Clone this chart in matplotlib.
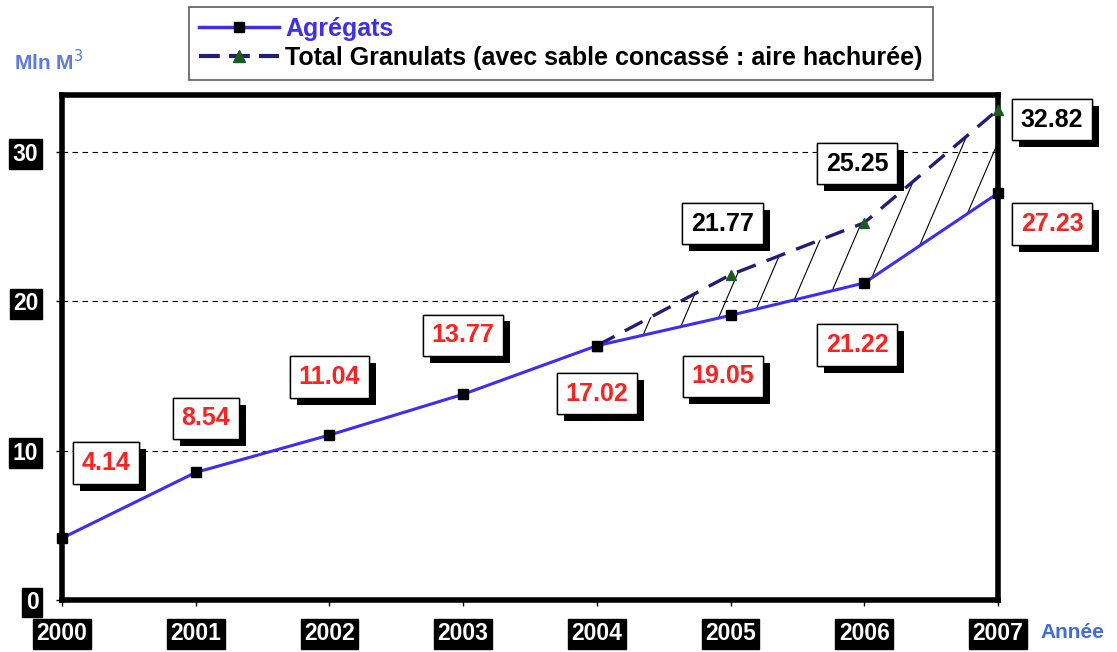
import matplotlib
matplotlib.use("Agg")
import numpy as np
import matplotlib.pyplot as plt
from matplotlib import patheffects as pe
from matplotlib.lines import Line2D

plt.rcParams['font.family'] = ['Liberation Sans', 'DejaVu Sans']

years = [2000, 2001, 2002, 2003, 2004, 2005, 2006, 2007]
agregats = [4.14, 8.54, 11.04, 13.77, 17.02, 19.05, 21.22, 27.23]
total_years = [2004, 2005, 2006, 2007]
total = [17.02, 21.77, 25.25, 32.82]
yticks = [0, 10, 20, 30]
legend_labels = ['Agrégats', 'Total Granulats (avec sable concassé : aire hachurée)']

# label offsets in pixels (dx, dy up)
agg_offsets = [(44, 75), (10, 54), (0, 58), (0, 59), (0, -48), (-8, -61), (-7, -62), (54, -31)]
tot_offsets = [None, (-8, 51), (-7, 59), (54, -10)]

BLUE = '#3D2EF5'
NAVY = '#221C7C'
GREEN = '#1E5A1E'

fig = plt.figure(figsize=(11.17, 6.52), dpi=100)
ax = fig.add_axes([62/1117, 1-600/652, (998-62)/1117, (600-95)/652])
ax.set_xlim(2000, 2007)
ax.set_ylim(0, 33.8)

# hatched area (sparse steep hatch clipped to area between curves)
agg_sub = agregats[years.index(2004):]
area = ax.fill_between(total_years, agg_sub, total, facecolor='none', edgecolor='none',
                       linewidth=0, zorder=1)
run = 0.43 * 505 / 936
for x0 in np.arange(-0.3, 1.0, 34/936):
    ln, = ax.plot([x0, x0 + run], [0, 1], transform=ax.transAxes, color='black', lw=0.8, zorder=2)
    ln.set_clip_path(area.get_paths()[0], ax.transData)

ax.plot(years, agregats, color=BLUE, lw=2.2, marker='s', markersize=6.5,
        markerfacecolor='black', markeredgecolor='black', clip_on=False, zorder=4)
ax.plot(total_years, total, color=NAVY, lw=2.4, dashes=(6, 3.5), marker='^', markersize=7,
        markerfacecolor=GREEN, markeredgecolor=GREEN, clip_on=False, zorder=3)

for s in ax.spines.values():
    s.set_linewidth(4)
    s.set_color('black')

ax.set_yticks(yticks)
ax.set_xticks(years)
ax.yaxis.grid(True, linestyle=(0, (5, 4)), color='black', lw=0.8)
ax.set_axisbelow(True)
ax.tick_params(axis='both', length=4, width=1, direction='out')
ax.tick_params(axis='y', pad=13)
ax.tick_params(axis='x', pad=12)
for lab in ax.get_yticklabels() + ax.get_xticklabels():
    lab.set_fontsize(16.5)
    lab.set_fontweight('bold')
    lab.set_color('white')
    lab.set_bbox(dict(facecolor='black', edgecolor='black', pad=2.5))


def box_label(x, y, txt, color, off):
    t = ax.annotate(txt, (x, y), xytext=off, textcoords='offset pixels',
                    ha='center', va='center', fontsize=18, fontweight='bold', color=color,
                    bbox=dict(boxstyle='square,pad=0.35', facecolor='white', edgecolor='black', lw=1),
                    annotation_clip=False, zorder=6)
    t.get_bbox_patch().set_path_effects([
        pe.withSimplePatchShadow(offset=(5, -5), shadow_rgbFace='black', alpha=1.0), pe.Normal()])
    return t

for x, y, o in zip(years, agregats, agg_offsets):
    box_label(x, y, f"{y:.2f}", '#FF2020', o)
for x, y, o in zip(total_years, total, tot_offsets):
    if o is not None:
        box_label(x, y, f"{y:.2f}", 'black', o)

fig.text(14/1117, 1-62/652, 'Mln M$^3$', color='#5A78F0', fontsize=15, fontweight='bold',
         va='center', ha='left')
fig.text(1040/1117, 1-633/652, 'Année', color='#3F6AE8', fontsize=15, fontweight='bold',
         va='center', ha='left')

handles = [Line2D([], [], color=BLUE, lw=2.5, marker='s', markersize=7, markerfacecolor='black',
                  markeredgecolor='black'),
           Line2D([], [], color=NAVY, lw=3, dashes=(5, 2.2), marker='^', markersize=8,
                  markerfacecolor=GREEN, markeredgecolor=GREEN)]
leg = fig.legend(handles, legend_labels,
                 loc='center', bbox_to_anchor=(561/1117, 1-43.5/652), frameon=True,
                 fancybox=False, edgecolor='#333333', handlelength=3.2, handletextpad=0.25,
                 borderpad=0.4, labelspacing=0.2, borderaxespad=0,
                 prop={'size': 18, 'weight': 'bold'})
leg.get_frame().set_linewidth(1.2)
texts = leg.get_texts()
texts[0].set_color(BLUE)
texts[1].set_color('black')

fig.savefig('out.png', dpi=100)
